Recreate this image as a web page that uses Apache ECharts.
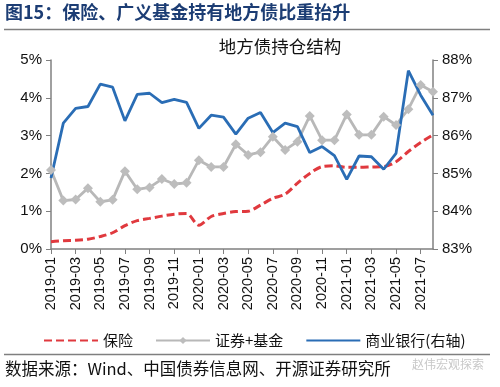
<!DOCTYPE html>
<html><head><meta charset="utf-8">
<script src="https://cdn.jsdelivr.net/npm/echarts@6/dist/echarts.min.js"></script>
<style>html,body{margin:0;padding:0;background:#fff}#c{width:500px;height:387px}</style>
</head><body><div id="c"></div>
<script>
const categories = ["2019-01","2019-02","2019-03","2019-04","2019-05","2019-06","2019-07","2019-08","2019-09","2019-10","2019-11","2019-12",
"2020-01","2020-02","2020-03","2020-04","2020-05","2020-06","2020-07","2020-08","2020-09","2020-10","2020-11","2020-12",
"2021-01","2021-02","2021-03","2021-04","2021-05","2021-06","2021-07","2021-08"];
const insurance = [0.19,0.22,0.23,0.26,0.33,0.43,0.62,0.75,0.81,0.87,0.92,0.94,0.63,0.86,0.94,0.99,1.00,1.16,1.34,1.45,1.74,2.00,2.18,2.20,2.16,2.16,2.17,2.18,2.31,2.58,2.82,3.02];
const brokerFund = [2.09,1.28,1.31,1.61,1.25,1.30,2.06,1.58,1.63,1.85,1.72,1.75,2.35,2.17,2.17,2.77,2.49,2.56,2.97,2.62,2.84,3.52,2.88,2.88,3.56,3.02,3.02,3.50,3.28,3.70,4.34,4.16];
const banks = [84.88,86.33,86.72,86.77,87.36,87.28,86.39,87.09,87.12,86.87,86.96,86.88,86.19,86.54,86.49,86.04,86.46,86.61,86.08,86.33,86.24,85.55,85.71,85.47,84.84,85.46,85.44,85.11,85.53,87.72,87.07,86.54];
const leftTicks = [0,1,2,3,4,5];
const rightTicks = [83,84,85,86,87,88];
const seriesNames = ["保险","证券+基金","商业银行(右轴)"];

const chart = echarts.init(document.getElementById('c'), null, {renderer:'canvas'});
const numFont = "Liberation Sans, Arial, sans-serif";
const cjk = "'Noto Sans CJK SC', sans-serif";
chart.setOption({
  animation:false,
  backgroundColor:'#fff',
  graphic:[
    {type:'text', left:5, top:3, style:{text:'图15：保险、广义基金持有地方债比重抬升', font:"bold 18px 'Noto Sans CJK SC'", fill:'#1c3d74'}},
    {type:'line', shape:{x1:4,y1:29.5,x2:490,y2:29.5}, style:{stroke:'#7f7f7f', lineWidth:1.5}},
    {type:'text', x:280, y:38, style:{text:'地方债持仓结构', font:"17.5px 'Noto Sans CJK SC'", fill:'#111', align:'center'}},
    {type:'line', shape:{x1:4,y1:354.5,x2:490,y2:354.5}, style:{stroke:'#7f7f7f', lineWidth:1.5}},
    {type:'text', left:5, top:360, style:{text:'数据来源：Wind、中国债券信息网、开源证券研究所', font:"16.5px 'Noto Sans CJK SC'", fill:'#111'}},
    {type:'text', left:412, top:358, style:{text:'赵伟宏观探索', font:"12px 'Noto Sans CJK SC'", fill:'#c8c8c8'}}
  ],
  legend:{
    top:328, left:38, itemGap:22, itemWidth:54, itemHeight:9,
    textStyle:{fontFamily:cjk, fontSize:15, color:'#111'},
    data:[
      {name:seriesNames[0], itemStyle:{opacity:0}},
      {name:seriesNames[1]},
      {name:seriesNames[2], itemStyle:{opacity:0}}
    ]
  },
  grid:{left:51, right:67, top:60, bottom:138, containLabel:false},
  xAxis:{
    type:'category', data:categories, boundaryGap:false,
    axisLine:{lineStyle:{color:'#808080', width:1.5}},
    axisTick:{interval:1, length:5, lineStyle:{color:'#808080'}},
    axisLabel:{interval:1, rotate:90, fontFamily:numFont, fontSize:14.5, color:'#111', margin:8}
  },
  yAxis:[
    {type:'value', min:0, max:5, interval:1,
     axisLine:{show:true, lineStyle:{color:'#808080', width:1.5}},
     axisTick:{show:true, length:5, lineStyle:{color:'#808080'}},
     splitLine:{show:false},
     axisLabel:{formatter:v=>v+'%', fontFamily:numFont, fontSize:15, color:'#111', margin:9}},
    {type:'value', min:83, max:88, interval:1, position:'right',
     axisLine:{show:true, lineStyle:{color:'#808080', width:1.5}},
     axisTick:{show:true, length:5, lineStyle:{color:'#808080'}},
     splitLine:{show:false},
     axisLabel:{formatter:v=>v+'%', fontFamily:numFont, fontSize:15, color:'#111', margin:9}}
  ],
  series:[
    {name:seriesNames[0], type:'line', data:insurance, yAxisIndex:0, smooth:0.3, symbol:'none',
     itemStyle:{color:'#e0393e'}, lineStyle:{color:'#e0393e', width:3, type:[8,4]}},
    {name:seriesNames[1], type:'line', data:brokerFund, yAxisIndex:0, symbol:'diamond', symbolSize:10, showAllSymbol:true,
     itemStyle:{color:'#bdbdbd'}, lineStyle:{color:'#b8b8b8', width:2.8}},
    {name:seriesNames[2], type:'line', data:banks, yAxisIndex:1, symbol:'none',
     itemStyle:{color:'#2a6db5'}, lineStyle:{color:'#2a6db5', width:2.8}}
  ]
});
</script></body></html>
